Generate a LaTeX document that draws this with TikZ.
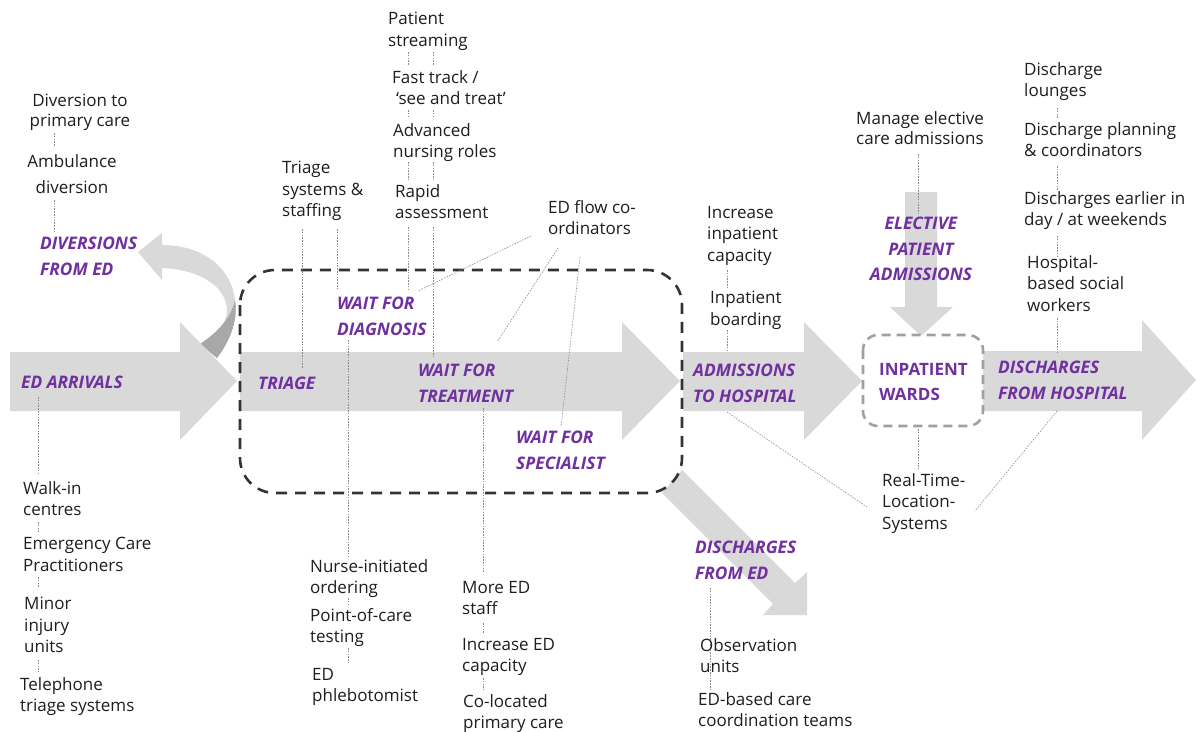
\documentclass[tikz,border=0pt]{standalone}
\usepackage{fontspec}
\setmainfont{Open Sans}
\definecolor{purp}{RGB}{112,48,160}
\definecolor{arrgray}{RGB}{217,217,217}
\definecolor{darkrib}{RGB}{168,168,168}
\definecolor{boxgray}{RGB}{160,160,160}
\definecolor{conngray}{RGB}{140,140,140}
\definecolor{txtcol}{RGB}{30,30,30}
\newcommand\mkconn[3]{\coordinate (#1a) at #2; \coordinate (#1b) at #3; \draw[conn] (#1a) -- (#1b);}
\begin{document}
\begin{tikzpicture}[x=1pt,y=-1pt,
  txt/.style={font=\fontsize{17}{21.5}\selectfont, text=txtcol, inner sep=0pt, anchor=north west, align=left, execute at begin node=\strut},
  txtc/.style={txt, anchor=north, align=center},
  lab/.style={font=\fontsize{17.3}{25.5}\selectfont\bfseries\itshape, text=purp, inner sep=0pt, anchor=north west, align=left, execute at begin node=\strut},
  labc/.style={lab, anchor=north, align=center},
  labup/.style={lab, font=\fontsize{17}{25.5}\selectfont\bfseries},
  flow/.style={fill=arrgray, draw=none},
  conn/.style={draw=conngray, line width=0.6pt, dash pattern=on 1.5pt off 1.3pt},
  edbox/.style={draw=black!80, line width=2.6pt, dash pattern=on 11pt off 8pt, rounded corners=35pt},
  wardbox/.style={draw=boxgray, fill=white, line width=2.6pt, dash pattern=on 9pt off 6pt, rounded corners=15pt}]
\useasboundingbox (0,0) rectangle (1196,731);
\fill[white] (0,0) rectangle (1196,731);

% curved diversion ribbon
\fill[arrgray] (162,233) -- (138,252) -- (162,280) -- (162,268)
  .. controls (205,270) and (228,290) .. (227,312)
  .. controls (226,325) and (215,335) .. (200,344)
  -- (217,358)
  .. controls (232,338) and (238,318) .. (235,300)
  .. controls (232,270) and (205,245) .. (162,245) -- cycle;
\fill[darkrib] (235,300) .. controls (238,318) and (232,338) .. (217,358)
  -- (200,344) .. controls (218,332) and (231,318) .. (235,300) -- cycle;

% main flow arrows
\fill[flow] (10,352) -- (180,352) -- (180,322) -- (237,381) -- (180,440) -- (180,411) -- (10,411) -- cycle;
\fill[flow] (240,352) -- (622,352) -- (622,322) -- (680,381) -- (622,440) -- (622,411) -- (240,411) -- cycle;
\fill[flow] (683,352) -- (804,352) -- (804,322) -- (862,381) -- (804,440) -- (804,411) -- (683,411) -- cycle;
\fill[flow] (983,351) -- (1142,351) -- (1142,320) -- (1196,380) -- (1142,440) -- (1142,411) -- (983,411) -- cycle;
% elective arrow
\fill[flow] (905,192) -- (937,192) -- (937,307) -- (953,307) -- (921,336) -- (890,307) -- (905,307) -- cycle;
% discharges from ED arrow
\fill[flow] (682,470) -- (795,583) -- (807,572) -- (807,615) -- (763,615) -- (773,604) -- (662,493) -- cycle;

% boxes
\draw[edbox] (240,270) rectangle (682,493);
\draw[wardbox] (863,335) rectangle (983,426);

% dotted connectors
\mkconn{k1}{(54,133)}{(54,147)}
\mkconn{k2}{(54,200)}{(54,232)}
\mkconn{k3}{(38,397)}{(38,475)}
\mkconn{k4}{(38,522)}{(38,532)}
\mkconn{k5}{(38,577)}{(38,588)}
\mkconn{k6}{(38,660)}{(38,672)}
\mkconn{k7}{(302,229)}{(302,368)}
\mkconn{k8}{(337,229)}{(337,290)}
\mkconn{k9}{(408,52)}{(408,65)}
\mkconn{k10}{(433,52)}{(433,65)}
\mkconn{k11}{(408,110)}{(408,118)}
\mkconn{k12}{(433,110)}{(433,118)}
\mkconn{k13}{(408,162)}{(408,180)}
\mkconn{k14}{(433,162)}{(433,180)}
\mkconn{k15}{(408,227)}{(408,290)}
\mkconn{k16}{(433,227)}{(433,358)}
\mkconn{k17}{(531,236)}{(418,291)}
\mkconn{k18}{(558,248)}{(497,342)}
\mkconn{k19}{(580,257)}{(561,427)}
\mkconn{k20}{(348,340)}{(348,557)}
\mkconn{k21}{(348,598)}{(348,604)}
\mkconn{k22}{(348,648)}{(348,663)}
\mkconn{k23}{(483,408)}{(483,573)}
\mkconn{k24}{(483,623)}{(483,633)}
\mkconn{k25}{(483,678)}{(483,690)}
\mkconn{k26}{(710,588)}{(710,690)}
\mkconn{k27}{(727,270)}{(727,288)}
\mkconn{k28}{(727,330)}{(727,352)}
\mkconn{k29}{(727,412)}{(867,507)}
\mkconn{k30}{(1057,411)}{(975,511)}
\mkconn{k31}{(918,154)}{(918,213)}
\mkconn{k32}{(918,429)}{(918,469)}
\mkconn{k33}{(1057,108)}{(1057,118)}
\mkconn{k34}{(1057,166)}{(1057,190)}
\mkconn{k35}{(1057,236)}{(1057,256)}
\mkconn{k36}{(1057,318)}{(1057,352)}

% purple stage labels
\node[lab] (divers) at (40,237) {DIVERSIONS\\[0.5pt]FROM ED};
\node[lab] (edarr) at (21,370) {ED ARRIVALS};
\node[lab] (triage) at (258,371) {TRIAGE};
\node[lab] (wdiag) at (337,297) {WAIT FOR\\DIAGNOSIS};
\node[lab] (wtreat) at (418,364) {WAIT FOR\\TREATMENT};
\node[lab] (wspec) at (516,431) {WAIT FOR\\SPECIALIST};
\node[lab] (admit) at (693,364) {ADMISSIONS\\TO HOSPITAL};
\node[labup] (wards) at (879,363) {INPATIENT\\WARDS};
\node[lab] (dishosp) at (998,361) {DISCHARGES\\FROM HOSPITAL};
\node[lab] (dised) at (695,541) {DISCHARGES\\FROM ED};
\node[labc] (elect) at (921,217) {ELECTIVE\\PATIENT\\ADMISSIONS};

% black text
\node[txtc] (divpc) at (80,94) {Diversion to\\[-1.5pt]primary care};
\node[txtc] (ambdiv) at (72,154) {Ambulance\\[4.5pt]diversion};
\node[txt] (trsys) at (282,161) {Triage\\systems \&\\staffing};
\node[txt] (patstr) at (388,12) {Patient\\streaming};
\node[txt] (fast) at (392,70) {Fast track /\\[-0.5pt]\hspace*{4pt}‘see and treat’};
\node[txt] (adv) at (393,123) {Advanced\\nursing roles};
\node[txt] (rapid) at (395,184) {Rapid\\assessment};
\node[txt] (edflow) at (548,200) {ED flow co-\\ordinators};
\node[txt] (incinp) at (707,206) {Increase\\inpatient\\capacity};
\node[txt] (inpbrd) at (710,291) {Inpatient\\boarding};
\node[txt] (manel) at (856,111) {Manage elective\\[-1.5pt]care admissions};
\node[txt] (dlounge) at (1024,62) {Discharge\\lounges};
\node[txt] (dplan) at (1024,122) {Discharge planning\\\& coordinators};
\node[txt] (dearly) at (1024,191) {Discharges earlier in\\day / at weekends};
\node[txt] (hsw) at (1027,255) {Hospital-\\based social\\workers};
\node[txt] (rtls) at (882,473) {Real-Time-\\Location-\\Systems};
\node[txt] (walkin) at (23,481) {Walk-in\\centres};
\node[txt] (ecp) at (23,537) {Emergency Care\\Practitioners};
\node[txt] (minor) at (24,597) {Minor\\injury\\units};
\node[txt] (tel) at (20,677) {Telephone\\triage systems};
\node[txt] (nurse) at (310,559) {Nurse-initiated\\ordering};
\node[txt] (poc) at (310,608) {Point-of-care\\testing};
\node[txt] (phleb) at (312,668) {ED\\phlebotomist};
\node[txt] (moreed) at (462,581) {More ED\\staff};
\node[txt] (inced) at (462,638) {Increase ED\\capacity};
\node[txt] (coloc) at (463,694) {Co-located\\primary care};
\node[txt] (obs) at (700,638) {Observation\\units};
\node[txt] (edbased) at (698,692) {ED-based care\\coordination teams};
\end{tikzpicture}
\end{document}
